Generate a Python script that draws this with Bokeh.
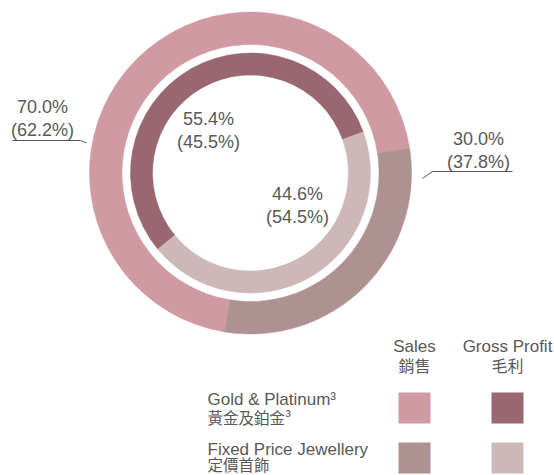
import math
from bokeh.plotting import figure
from bokeh.models import Range1d, ColumnDataSource
from bokeh.core.properties import value
from bokeh.embed import file_html
from bokeh.resources import INLINE

# ---- data ----
segments_en = ["Gold & Platinum³", "Fixed Price Jewellery"]
segments_zh = ["黃金及鉑金³", "定價首飾"]
sales_pct = [70.0, 30.0]
sales_prev = [62.2, 37.8]
gp_pct = [55.4, 44.6]
gp_prev = [45.5, 54.5]
sales_colors = ["#D09AA3", "#AE9292"]
gp_colors = ["#986770", "#CBB8B7"]
series_en = ["Sales", "Gross Profit"]
series_zh = ["銷售", "毛利"]

W, H = 554, 475
def sy(y):
    return H - y

p = figure(width=W, height=H, output_backend="svg", toolbar_location=None,
           x_range=Range1d(0, W), y_range=Range1d(0, H),
           min_border=0, outline_line_color=None)
p.axis.visible = False
p.grid.visible = False
p.background_fill_color = "white"
p.border_fill_color = "white"

cx, cy = 250, sy(172.5)

def ring(pcts, colors, anchor_deg, r_in, r_out):
    total = sum(pcts)
    a_first = 360.0 * pcts[0] / total
    a_second = 360.0 * pcts[1] / total
    starts = [math.radians(anchor_deg), math.radians(anchor_deg - a_second)]
    ends = [math.radians(anchor_deg + a_first), math.radians(anchor_deg)]
    src = ColumnDataSource(dict(x=[cx, cx], y=[cy, cy], s=starts, e=ends, c=colors))
    p.annular_wedge(x="x", y="y", inner_radius=r_in, outer_radius=r_out,
                    start_angle="s", end_angle="e", fill_color="c",
                    line_color="c", line_width=0.5, source=src)

ring(sales_pct, sales_colors, 8.8, 128.5, 161)
ring(gp_pct, gp_colors, 20.0, 98, 120)

FONT = value("Liberation Sans")
CJK = value("Noto Sans CJK TC")
TXT = "#595959"

def pct_label(x, y, v, pv):
    p.text(x=[x, x], y=[sy(y), sy(y + 23)], text=[f"{v:.1f}%", f"({pv:.1f}%)"],
           text_font=FONT, text_font_size="18px", text_color=TXT,
           text_align="center", text_baseline="middle")

pct_label(42, 106.5, sales_pct[0], sales_prev[0])
pct_label(478, 138, sales_pct[1], sales_prev[1])
pct_label(208, 118.5, gp_pct[0], gp_prev[0])
pct_label(297, 193.5, gp_pct[1], gp_prev[1])

# leader lines
p.line(x=[12, 80, 86], y=[sy(140), sy(140), sy(142.5)], line_color="#555555", line_width=1)
p.line(x=[422, 432, 512], y=[sy(178), sy(171), sy(171)], line_color="#555555", line_width=1)

# legend headers
col_x = [414, 507]
p.text(x=col_x, y=[sy(345.5)] * 2, text=series_en, text_font=FONT, text_font_size="17px",
       text_color=TXT, text_align="center", text_baseline="middle")
p.text(x=col_x, y=[sy(364.5)] * 2, text=series_zh, text_font=CJK, text_font_size="16px",
       text_color=TXT, text_align="center", text_baseline="middle")

# row labels
row_y = [407.5, 457.5]
p.text(x=[207, 207], y=[sy(399), sy(448.5)], text=segments_en, text_font=FONT,
       text_font_size="17px", text_color=TXT, text_align="left", text_baseline="middle")
p.text(x=[207, 207], y=[sy(416), sy(463)], text=segments_zh, text_font=CJK,
       text_font_size="15.5px", text_color=TXT, text_align="left", text_baseline="middle")

# legend squares
for i in range(2):
    p.rect(x=[col_x[0], col_x[1]], y=[sy(row_y[i])] * 2, width=32, height=31,
           fill_color=[sales_colors[i], gp_colors[i]], line_color=None)

open("out.html", "w").write(file_html(p, INLINE))
